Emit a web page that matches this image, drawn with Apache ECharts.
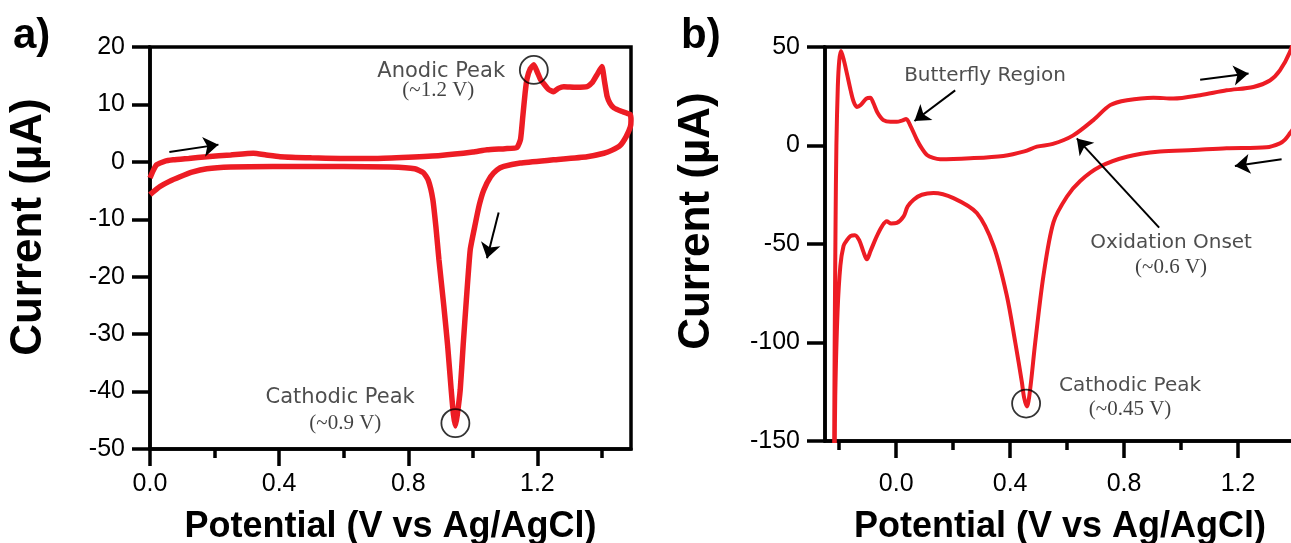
<!DOCTYPE html>
<html>
<head>
<meta charset="utf-8">
<script src="https://cdn.jsdelivr.net/npm/echarts@6/dist/echarts.min.js"></script>
<style>
html,body{margin:0;padding:0;background:#fff;}
#chart{width:1291px;height:543px;}
</style>
</head>
<body>
<div id="chart"></div>
<script>
// ---------- Panel a data (Potential V, Current uA) ----------
const aForwardV = [0.000,0.010,0.021,0.045,0.072,0.12,0.176,0.25,0.32,0.36,0.403,0.5,0.589,0.7,0.8,0.9,1.0,1.044,1.1,1.137,1.148,1.155,1.162,1.168,1.178,1.189,1.2,1.21,1.22,1.235,1.25,1.265,1.282,1.32,1.354,1.37,1.385,1.4,1.408,1.416,1.425,1.437,1.46,1.488];
const aForwardI = [-2.8,-1.5,-0.5,0.1,0.35,0.6,0.9,1.2,1.5,1.2,0.9,0.7,0.6,0.6,0.8,1.1,1.7,2.1,2.3,2.5,4,8,12,14.5,16.2,16.9,15.6,14.3,13.6,12.6,12.2,12.8,13.1,13.0,13.1,13.8,15.2,16.6,14,11.4,10.2,9.4,8.8,8.2];
const aReverseV = [1.49,1.488,1.475,1.457,1.43,1.406,1.354,1.25,1.147,1.096,1.075,1.055,1.034,1.02,1.008,0.992,0.98,0.97,0.961,0.952,0.946,0.94,0.933,0.922,0.91,0.895,0.886,0.876,0.862,0.847,0.82,0.744,0.6,0.38,0.25,0.176,0.13,0.093,0.06,0.031,0.0];
const aReverseI = [7.2,6.1,4.4,2.9,2.0,1.5,0.9,0.35,-0.2,-0.8,-1.4,-2.6,-4.9,-7.5,-10.7,-15.3,-24,-32,-39.7,-44,-46,-44,-39.7,-32,-25,-17,-11.5,-6.5,-3.2,-1.9,-1.2,-0.9,-0.8,-0.8,-0.9,-1.2,-1.8,-2.6,-3.4,-4.3,-5.7];

// ---------- Panel b data ----------
const bForwardV = [-0.218,-0.216,-0.213,-0.21,-0.205,-0.2,-0.194,-0.185,-0.173,-0.16,-0.15,-0.138,-0.125,-0.105,-0.091,-0.08,-0.065,-0.045,-0.02,0.002,0.02,0.035,0.05,0.073,0.09,0.108,0.13,0.154,0.26,0.376,0.45,0.494,0.55,0.62,0.692,0.751,0.81,0.903,0.973,1.067,1.16,1.254,1.312,1.347,1.382,1.41,1.43];
const bForwardI = [-160,-100,-40,0,30,43,48,44,36.5,28,22.5,19.6,20.5,23.8,24.3,21.5,16.5,12.9,12.0,12.0,12.6,13.4,10,2.8,-1.5,-4.8,-6.3,-7.0,-6.5,-5.3,-3,-0.6,0.8,5.0,12.9,20.5,23,24.3,23.8,25.5,28,29.7,33,38.1,47.4,60,70];
const bReverseV = [1.43,1.41,1.382,1.365,1.347,1.3,1.16,1.044,0.926,0.81,0.716,0.646,0.599,0.552,0.517,0.488,0.47,0.459,0.449,0.441,0.418,0.388,0.342,0.283,0.201,0.131,0.09,0.061,0.04,0.026,0.002,-0.018,-0.033,-0.05,-0.068,-0.09,-0.103,-0.115,-0.13,-0.145,-0.161,-0.175,-0.185,-0.196,-0.206,-0.214,-0.216];
const bReverseI = [20,12,6.2,3,1.1,-0.9,-1.4,-2.3,-3.1,-5.7,-10.7,-18,-26,-39,-66,-100,-124,-132.5,-128,-120,-100,-76,-51,-34.3,-26.7,-24.1,-25,-27.5,-31,-36,-39.3,-39.6,-38.5,-41,-46,-53.5,-57.8,-54,-48,-45.5,-46,-48.5,-51,-61,-84.6,-127,-160];

// ---------- Axis ticks ----------
const aMajorTicks = [0.0,0.4,0.8,1.2];
const aMinorTicks = [0.2,0.6,1.0,1.4];
const bMajorTicks = [0.0,0.4,0.8,1.2];
const bMinorTicks = [-0.2,0.2,0.6,1.0,1.4];

// ---------- Annotations ----------
const aNoteText = ['Anodic Peak','(~1.2 V)','Cathodic Peak','(~0.9 V)'];
const aNoteV = [0.902,0.893,0.589,0.605];
const aNoteI = [15.7,12.5,-41.1,-45.6];
const aCircleV = [1.189,0.946];
const aCircleI = [16.0,-45.5];
const aArrows = [[0.06,1.7,0.212,3.0],[1.08,-8.8,1.044,-16.8]];

const bNoteText = ['Butterfly Region','Oxidation Onset','(~0.6 V)','Cathodic Peak','(~0.45 V)'];
const bNoteV = [0.312,0.965,0.965,0.821,0.821];
const bNoteI = [35.6,-49.2,-61.9,-122,-134];
const bCircleV = [0.456];
const bCircleI = [-131];
const bArrows = [[0.207,28,0.064,12.4],[0.923,-41.7,0.634,3.6],[1.067,33.4,1.237,36.5],[1.353,-7,1.189,-10.4]];

const zip = (xs, ys) => xs.map((x, i) => [x, ys[i]]);
const RED = '#ED1C24';
const SANS = '"Liberation Sans", Arial, sans-serif';
const NOTE = '"DejaVu Sans", sans-serif';
const SERIF = '"Liberation Serif", "DejaVu Serif", serif';

function notesSeries(texts, vs, is, xi, yi, size) {
  return {
    type: 'scatter', xAxisIndex: xi, yAxisIndex: yi, z: 6, silent: true,
    symbol: 'circle', symbolSize: 1, itemStyle: { color: 'rgba(0,0,0,0)' },
    data: texts.map((t, i) => ({ value: [vs[i], is[i]], name: t })),
    label: {
      show: true, position: 'inside',
      formatter: p => p.name.charAt(0) === '(' ? '{s|' + p.name + '}' : '{n|' + p.name + '}',
      rich: {
        n: { fontFamily: NOTE, fontSize: size, color: '#222' },
        s: { fontFamily: SERIF, fontSize: 21, color: '#111' }
      }
    }
  };
}
function circleSeries(vs, is, xi, yi) {
  return {
    type: 'scatter', xAxisIndex: xi, yAxisIndex: yi, z: 7, silent: true,
    symbol: 'circle', symbolSize: 28,
    itemStyle: { color: 'rgba(0,0,0,0)', borderColor: '#000', borderWidth: 1.8 },
    data: zip(vs, is)
  };
}
function arrowSeries(arrows, xi, yi) {
  return {
    type: 'line', xAxisIndex: xi, yAxisIndex: yi, data: [], silent: true,
    markLine: {
      silent: true, animation: false,
      symbol: ['none', 'arrow'], symbolSize: 15,
      itemStyle: { color: '#000' },
      lineStyle: { color: '#000', width: 2, type: 'solid' },
      label: { show: false },
      data: arrows.map(a => [{ coord: [a[0], a[1]] }, { coord: [a[2], a[3]] }])
    }
  };
}

function xMain(gi, min, max, ticks) {
  return {
    type: 'value', gridIndex: gi, position: 'bottom', min: min, max: max,
    name: 'Potential (V vs Ag/AgCl)', nameLocation: 'middle', nameGap: gi === 0 ? 60 : 68,
    nameTextStyle: { fontFamily: SANS, fontWeight: 'bold', fontSize: 36, color: '#000', verticalAlign: 'top' },
    axisLine: { show: true, onZero: false, lineStyle: { color: '#000', width: 3.5 } },
    axisTick: { show: true, inside: false, length: 17, lineStyle: { color: '#000', width: 3.5 }, customValues: ticks },
    axisLabel: { show: true, customValues: ticks, margin: gi === 0 ? 23 : 31, fontFamily: SANS, fontSize: 25, color: '#000', formatter: v => v.toFixed(1) },
    splitLine: { show: false }
  };
}
function xMinor(gi, min, max, ticks) {
  return {
    type: 'value', gridIndex: gi, position: 'bottom', offset: 0, min: min, max: max,
    axisLine: { show: false, onZero: false },
    axisTick: { show: true, inside: false, length: 9, lineStyle: { color: '#000', width: 3.5 }, customValues: ticks },
    axisLabel: { show: false },
    splitLine: { show: false }
  };
}
function yMain(gi, min, max, interval, gap, shift) {
  return {
    type: 'value', gridIndex: gi, min: min, max: max, interval: interval,
    name: 'Current (µA)', nameLocation: 'middle', nameGap: gap,
    nameTextStyle: { fontFamily: SANS, fontWeight: 'bold', fontSize: 44, color: '#000', padding: [0, 0, 0, shift] },
    axisLine: { show: true, onZero: false, lineStyle: { color: '#000', width: 3.5 } },
    axisTick: { show: true, inside: false, length: 18, lineStyle: { color: '#000', width: 3.5 } },
    axisLabel: { show: true, margin: 25, fontFamily: SANS, fontSize: 25, color: '#000' },
    splitLine: { show: false }
  };
}

const option = {
  animation: false,
  backgroundColor: '#fff',
  title: [
    { text: 'a)', left: 8, top: 10, textStyle: { fontFamily: SANS, fontWeight: 'bold', fontSize: 42, color: '#000' } },
    { text: 'b)', left: 676, top: 10, textStyle: { fontFamily: SANS, fontWeight: 'bold', fontSize: 42, color: '#000' } }
  ],
  grid: [
    { left: 150, top: 47, right: 660, bottom: 94, outerBoundsMode: 'none', containLabel: false, show: true, borderColor: '#000', borderWidth: 3.5, backgroundColor: 'rgba(0,0,0,0)' },
    { left: 825, top: 47, right: -4, bottom: 102, outerBoundsMode: 'none', containLabel: false, show: true, borderColor: '#000', borderWidth: 3.5, backgroundColor: 'rgba(0,0,0,0)' }
  ],
  xAxis: [
    xMain(0, 0, 1.49, aMajorTicks),
    xMain(1, -0.25, 1.4, bMajorTicks),
    xMinor(0, 0, 1.49, aMinorTicks),
    xMinor(1, -0.25, 1.4, bMinorTicks)
  ],
  yAxis: [
    yMain(0, -50, 20, 10, 99, 42),
    yMain(1, -150, 50, 50, 106, 46)
  ],
  series: [
    {
      type: 'line', xAxisIndex: 0, yAxisIndex: 0, showSymbol: false, smooth: 0.15, silent: true,
      lineStyle: { color: RED, width: 5.5 }, data: zip(aForwardV.concat(aReverseV), aForwardI.concat(aReverseI))
    },
    {
      type: 'line', xAxisIndex: 1, yAxisIndex: 1, showSymbol: false, smooth: 0.3, silent: true,
      lineStyle: { color: RED, width: 4 }, data: zip(bForwardV.concat(bReverseV), bForwardI.concat(bReverseI))
    },
    notesSeries(aNoteText, aNoteV, aNoteI, 0, 0, 21),
    notesSeries(bNoteText, bNoteV, bNoteI, 1, 1, 20),
    circleSeries(aCircleV, aCircleI, 0, 0),
    circleSeries(bCircleV, bCircleI, 1, 1),
    arrowSeries(aArrows, 0, 0),
    arrowSeries(bArrows, 1, 1)
  ]
};

const chart = echarts.init(document.getElementById('chart'), null, { renderer: 'canvas' });
chart.setOption(option);
</script>
</body>
</html>
